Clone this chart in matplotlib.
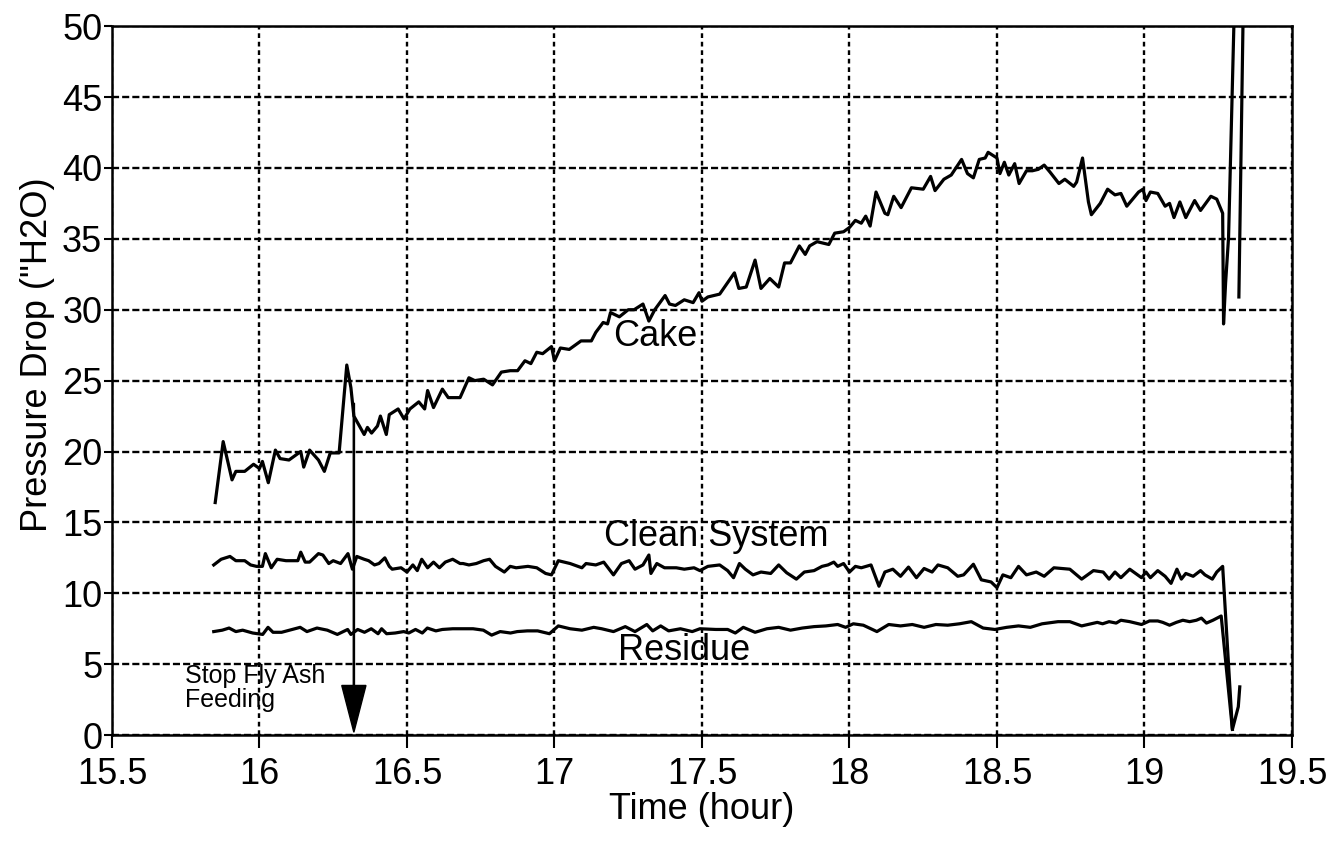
import matplotlib
matplotlib.use('Agg')
import matplotlib.pyplot as plt

plt.rcParams['font.family'] = ['Liberation Sans', 'DejaVu Sans']

# cake pressure drop ("H2O) vs time (hour)
cake_t = [15.85, 15.877, 15.907, 15.92, 15.95, 15.98, 16.00, 16.01, 16.03, 16.054,
          16.07, 16.10, 16.14, 16.15, 16.17, 16.20, 16.22, 16.24, 16.27, 16.296,
          16.31, 16.32, 16.355, 16.366, 16.38, 16.40, 16.41, 16.43, 16.44, 16.47,
          16.49, 16.51, 16.54, 16.56, 16.57, 16.59, 16.62, 16.64, 16.68, 16.71,
          16.73, 16.76, 16.79, 16.82, 16.85, 16.875, 16.90, 16.92, 16.94, 16.96,
          16.99, 17.00, 17.02, 17.05, 17.09, 17.125, 17.14, 17.165, 17.18, 17.19,
          17.22, 17.25, 17.27, 17.30, 17.32, 17.34, 17.375, 17.39, 17.41, 17.44,
          17.47, 17.49, 17.50, 17.52, 17.56, 17.58, 17.61, 17.625, 17.65, 17.68,
          17.70, 17.73, 17.76, 17.78, 17.80, 17.83, 17.85, 17.865, 17.89, 17.93,
          17.95, 17.98, 18.00, 18.02, 18.04, 18.055, 18.07, 18.09, 18.12, 18.13,
          18.15, 18.175, 18.21, 18.25, 18.275, 18.29, 18.32, 18.345, 18.38, 18.40,
          18.42, 18.44, 18.46, 18.47, 18.50, 18.51, 18.525, 18.54, 18.56, 18.575,
          18.60, 18.62, 18.64, 18.66, 18.68, 18.71, 18.73, 18.76, 18.77, 18.79,
          18.81, 18.82, 18.85, 18.875, 18.90, 18.92, 18.94, 18.98, 18.995, 19.005,
          19.02, 19.045, 19.07, 19.085, 19.10, 19.12, 19.14, 19.17, 19.19, 19.225,
          19.245, 19.265, 19.268, 19.275, 19.285, 19.315, 19.341, 19.32]
cake_v = [16.4, 20.7, 18.0, 18.6, 18.6, 19.1, 18.8, 19.3, 17.8, 20.1,
          19.5, 19.4, 20.0, 18.9, 20.1, 19.4, 18.6, 19.9, 19.9, 26.1,
          24.5, 22.5, 21.2, 21.7, 21.3, 21.8, 22.5, 21.2, 22.6, 23.0,
          22.3, 23.0, 23.5, 23.0, 24.3, 23.1, 24.4, 23.8, 23.8, 25.2,
          25.0, 25.1, 24.7, 25.6, 25.7, 25.7, 26.4, 26.2, 27.0, 26.9,
          27.4, 26.4, 27.3, 27.2, 27.8, 27.8, 28.4, 29.1, 29.0, 29.8,
          29.5, 30.0, 30.0, 30.4, 29.2, 30.0, 31.0, 30.4, 30.3, 30.7,
          30.5, 31.2, 30.6, 30.9, 31.1, 31.7, 32.6, 31.5, 31.6, 33.5,
          31.5, 32.2, 31.6, 33.3, 33.3, 34.5, 33.9, 34.5, 34.8, 34.6,
          35.4, 35.5, 35.8, 36.3, 36.1, 36.6, 35.9, 38.3, 36.8, 36.7,
          38.0, 37.2, 38.6, 38.5, 39.4, 38.4, 39.2, 39.5, 40.6, 39.6,
          39.3, 40.6, 40.7, 41.1, 40.7, 39.6, 40.4, 39.5, 40.3, 38.9,
          39.8, 39.8, 39.9, 40.2, 39.7, 38.9, 39.2, 38.7, 39.0, 40.7,
          37.6, 36.7, 37.5, 38.5, 38.1, 38.2, 37.3, 38.3, 38.5, 37.7,
          38.3, 38.2, 37.3, 37.5, 36.5, 37.6, 36.5, 37.7, 37.0, 38.0,
          37.8, 36.8, 29.0, 31.9, 35.1, 60.0, 60.0, 30.9]

clean_t = [15.845, 15.87, 15.90, 15.92, 15.95, 15.97, 15.99, 16.01, 16.02, 16.04,
           16.06, 16.09, 16.13, 16.14, 16.155, 16.17, 16.20, 16.215, 16.235, 16.25,
           16.275, 16.30, 16.315, 16.33, 16.355, 16.37, 16.39, 16.405, 16.425, 16.44,
           16.45, 16.48, 16.50, 16.52, 16.535, 16.55, 16.57, 16.59, 16.61, 16.63,
           16.655, 16.68, 16.69, 16.71, 16.735, 16.76, 16.78, 16.80, 16.83, 16.85,
           16.87, 16.91, 16.94, 16.97, 16.99, 17.013, 17.053, 17.093, 17.107, 17.14,
           17.167, 17.20, 17.227, 17.253, 17.273, 17.30, 17.32, 17.327, 17.347, 17.373,
           17.413, 17.44, 17.473, 17.493, 17.52, 17.56, 17.587, 17.607, 17.627, 17.647,
           17.673, 17.70, 17.733, 17.76, 17.787, 17.82, 17.847, 17.88, 17.907, 17.927,
           17.947, 17.96, 17.98, 18.00, 18.02, 18.04, 18.073, 18.10, 18.12, 18.147,
           18.173, 18.20, 18.227, 18.253, 18.28, 18.30, 18.333, 18.367, 18.387, 18.42,
           18.447, 18.48, 18.50, 18.52, 18.547, 18.573, 18.60, 18.633, 18.66, 18.693,
           18.747, 18.787, 18.827, 18.86, 18.88, 18.90, 18.92, 18.95, 18.97, 18.99,
           19.005, 19.02, 19.045, 19.07, 19.09, 19.11, 19.125, 19.14, 19.165, 19.19,
           19.205, 19.23, 19.245, 19.265, 19.298, 19.318, 19.323]
clean_v = [12.0, 12.4, 12.6, 12.3, 12.3, 12.0, 11.9, 11.9, 12.8, 11.8,
           12.4, 12.3, 12.3, 12.9, 12.2, 12.2, 12.8, 12.7, 12.1, 12.3,
           12.1, 12.8, 11.7, 12.6, 12.4, 12.3, 12.0, 12.1, 12.5, 11.9,
           11.7, 11.8, 11.5, 12.0, 11.6, 12.4, 11.8, 12.2, 11.8, 12.2,
           12.4, 12.1, 12.1, 12.0, 12.1, 12.3, 12.4, 11.9, 11.5, 11.9,
           11.8, 11.9, 11.8, 11.4, 11.3, 12.3, 12.1, 11.8, 12.1, 12.0,
           12.2, 11.3, 12.1, 12.3, 11.7, 12.0, 12.7, 11.4, 12.1, 11.8,
           11.8, 11.7, 11.8, 11.6, 11.9, 12.0, 11.6, 11.1, 12.1, 11.7,
           11.3, 11.5, 11.4, 12.0, 11.45, 11.0, 11.5, 11.6, 11.9, 12.0,
           12.2, 11.9, 12.1, 11.5, 11.9, 11.8, 12.0, 10.5, 11.5, 11.7,
           11.2, 11.85, 11.1, 11.75, 11.5, 12.0, 11.8, 11.2, 11.3, 12.05,
           10.95, 10.8, 10.4, 11.3, 11.1, 11.9, 11.3, 11.5, 11.2, 11.8,
           11.7, 11.0, 11.6, 11.5, 11.0, 11.5, 11.1, 11.7, 11.4, 11.1,
           11.5, 11.1, 11.6, 11.2, 10.7, 11.7, 11.0, 11.4, 11.2, 11.6,
           11.3, 11.0, 11.5, 11.9, 0.4, 2.0, 3.4]

residue_t = [15.845, 15.874, 15.897, 15.92, 15.943, 15.977, 16.011, 16.029, 16.046, 16.075,
             16.138, 16.161, 16.195, 16.23, 16.264, 16.299, 16.31, 16.333, 16.356, 16.379,
             16.402, 16.414, 16.431, 16.46, 16.489, 16.506, 16.529, 16.552, 16.569, 16.598,
             16.62, 16.655, 16.69, 16.724, 16.759, 16.787, 16.816, 16.851, 16.874, 16.908,
             16.943, 16.983, 17.013, 17.053, 17.093, 17.133, 17.16, 17.20, 17.24, 17.273,
             17.313, 17.333, 17.36, 17.387, 17.427, 17.467, 17.493, 17.547, 17.587, 17.613,
             17.64, 17.68, 17.72, 17.76, 17.80, 17.84, 17.88, 17.92, 17.96, 17.987,
             18.013, 18.047, 18.093, 18.133, 18.173, 18.213, 18.253, 18.293, 18.333, 18.373,
             18.413, 18.453, 18.493, 18.533, 18.573, 18.613, 18.653, 18.707, 18.747, 18.787,
             18.84, 18.858, 18.88, 18.904, 18.92, 18.95, 18.99, 19.017, 19.045, 19.062,
             19.085, 19.108, 19.13, 19.153, 19.176, 19.193, 19.21, 19.232, 19.26, 19.298]
residue_v = [7.3, 7.4, 7.55, 7.3, 7.4, 7.2, 7.1, 7.6, 7.25, 7.25,
             7.6, 7.3, 7.55, 7.4, 7.1, 7.45, 7.1, 7.45, 7.25, 7.5,
             7.15, 7.5, 7.15, 7.2, 7.3, 7.2, 7.45, 7.2, 7.55, 7.35,
             7.45, 7.5, 7.5, 7.5, 7.4, 7.05, 7.3, 7.2, 7.3, 7.35,
             7.35, 7.15, 7.7, 7.5, 7.4, 7.6, 7.5, 7.3, 7.65, 7.3,
             7.8, 7.35, 7.7, 7.35, 7.5, 7.3, 7.5, 7.45, 7.45, 7.2,
             7.6, 7.25, 7.5, 7.6, 7.4, 7.55, 7.65, 7.7, 7.8, 7.6,
             7.85, 7.75, 7.3, 7.8, 7.7, 7.8, 7.6, 7.8, 7.75, 7.85,
             8.0, 7.55, 7.45, 7.6, 7.7, 7.6, 7.85, 8.0, 8.0, 7.7,
             7.95, 7.85, 8.0, 7.9, 8.1, 8.0, 7.8, 8.05, 8.05, 7.95,
             7.75, 7.95, 8.1, 8.0, 8.1, 8.25, 7.9, 8.1, 8.4, 0.4]

xticks = [15.5, 16, 16.5, 17, 17.5, 18, 18.5, 19, 19.5]
xtick_labels = ['15.5', '16', '16.5', '17', '17.5', '18', '18.5', '19', '19.5']
yticks = [0, 5, 10, 15, 20, 25, 30, 35, 40, 45, 50]

fig = plt.figure(figsize=(13.44, 8.43), dpi=100)
ax = fig.add_axes([0.0833, 0.128, 0.878, 0.841])

ax.plot(cake_t, cake_v, color='black', lw=2.3)
ax.plot(clean_t, clean_v, color='black', lw=2.3)
ax.plot(residue_t, residue_v, color='black', lw=2.3)

ax.set_xlim(15.5, 19.5)
ax.set_ylim(0, 50)
ax.set_xticks(xticks)
ax.set_xticklabels(xtick_labels)
ax.set_yticks(yticks)
ax.tick_params(axis='x', direction='out', length=9, width=1.5, labelsize=26, pad=7)
ax.tick_params(axis='y', direction='out', length=6, width=1.5, labelsize=26, pad=1)

ax.xaxis.grid(True, color='black', lw=1.7, ls=(0, (2, 1.6)))
ax.yaxis.grid(True, color='black', lw=1.7, ls=(0, (3, 1.3)))
for s in ax.spines.values():
    s.set_linewidth(1.8)

ax.set_xlabel('Time (hour)', fontsize=26, labelpad=0)
ax.set_ylabel('Pressure Drop ("H2O)', fontsize=26)
ax.yaxis.set_label_coords(-0.048, 0.537)

ax.text(17.34, 28.1, 'Cake', fontsize=26, ha='center', va='center')
ax.text(17.55, 14.0, 'Clean System', fontsize=26, ha='center', va='center')
ax.text(17.44, 6.0, 'Residue', fontsize=26, ha='center', va='center')
ax.text(15.748, 3.3, 'Stop Fly Ash\nFeeding', fontsize=18, ha='left', va='center',
        linespacing=1.0)

# stop feeding marker
ax.arrow(16.32, 23.4, 0, -23.2, width=0.004, head_width=0.082, head_length=3.3,
         length_includes_head=True, color='black', lw=1.0)

fig.savefig('out.png', dpi=100)
